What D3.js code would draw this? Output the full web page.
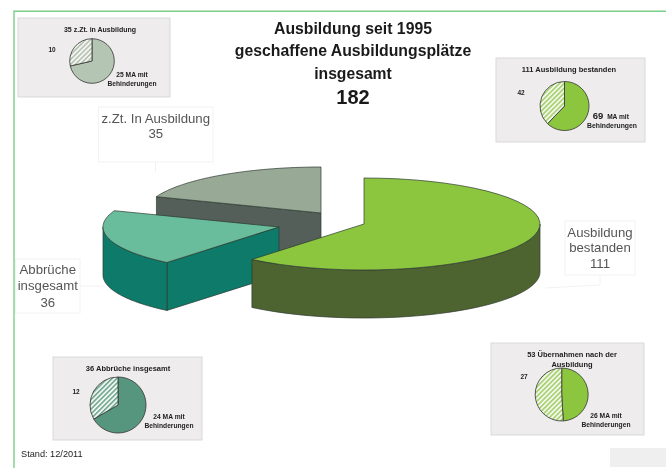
<!DOCTYPE html>
<html><head><meta charset="utf-8">
<script src="https://cdn.jsdelivr.net/npm/d3@7"></script>
<style>html,body{margin:0;padding:0;background:#fff;overflow:hidden}svg{display:block;filter:blur(0.45px)}text{font-family:"Liberation Sans",Arial,sans-serif}</style>
</head><body><svg id="c" width="666" height="468"></svg>
<script>
const titleLines = ["Ausbildung seit 1995","geschaffene Ausbildungsplätze","insgesamt","182"];
const mainCategories = ["Ausbildung bestanden","Abbrüche insgesamt","z.Zt. In Ausbildung"];
const mainValues = [111,36,35];
const mainColors = ["#8cc63f","#69bd9c","#98a996"];
const mainSideColors = ["#4e6430","#0e7a69","#535f58"];
const miniTitles = ["35 z.Zt. in Ausbildung","111 Ausbildung bestanden","36 Abbrüche insgesamt","53 Übernahmen nach der Ausbildung"];
const miniSolid = [25,69,24,26];
const miniHatched = [10,42,12,27];
const miniColors = ["#b5c5b4","#8cc63f","#56967f","#8cc63f"];
const hatchColors = ["#b5c0b3","#a5d26a","#6fa893","#a5d26a"];
const stand = "Stand: 12/2011";

const svg = d3.select("#c");
const defs = svg.append("defs");

// page frame
svg.append("path").attr("d","M14,468V11.3H666").attr("fill","none").attr("stroke","#7ccf8a").attr("stroke-width",1.4);
svg.append("rect").attr("x",610).attr("y",448).attr("width",56).attr("height",19).attr("fill","#efefef");

// title
titleLines.forEach((t,i)=>svg.append("text").attr("x",353).attr("y",[34,56,79,104][i]).attr("text-anchor","middle")
  .attr("font-size",[15.8,15.8,15.7,20][i]).attr("font-weight",700).attr("fill","#1a1a1a").text(t));

// main exploded 3D pie
const rx=176, ry=46, depth=48;
const centers=[[364,224],[279,227],[321,213]];
const pie3=d3.pie().sort(null).startAngle(0).endAngle(2*Math.PI)(mainValues);
const P=(c,a,dz=0)=>[c[0]+rx*Math.sin(a),c[1]-ry*Math.cos(a)+dz];
const line=d3.line();
const samples=(a0,a1)=>d3.range(41).map(i=>a0+(a1-a0)*i/40);
const stroke="#2c3a30";
[2,1,0].forEach(i=>{
  const s=pie3[i], c=centers[i];
  const g=svg.append("g").attr("stroke",stroke).attr("stroke-width",0.7).attr("stroke-linejoin","round");
  // the cut face turned towards the viewer
  if(Math.sin(s.startAngle)<-1e-6){
    const a=s.startAngle;
    const face=[c,P(c,a),P(c,a,depth),[c[0],c[1]+depth]];
    g.append("path").attr("d",line(face)+"Z").attr("fill",mainSideColors[i]);
  }
  // outer wall (only the part facing the viewer: angle between 90° and 270°)
  const w0=Math.max(s.startAngle,Math.PI/2), w1=Math.min(s.endAngle,3*Math.PI/2);
  if(w1>w0){
    const top=samples(w0,w1).map(a=>P(c,a));
    const bot=samples(w1,w0).map(a=>P(c,a,depth));
    g.append("path").attr("d",line(top.concat(bot))+"Z").attr("fill",mainSideColors[i]);
  }
  // top face
  const pts=[c].concat(samples(s.startAngle,s.endAngle).map(a=>P(c,a)));
  g.append("path").attr("d",line(pts)+"Z").attr("fill",mainColors[i]);
});

// callout labels
const boxStroke="#f2f2f2";
const callouts=[
 {x:98.5,y:107,w:114.5,h:55,lines:["z.Zt. In Ausbildung","35"],ly:[123,138],lead:"M155.5,162V172"},
 {x:565,y:221,w:70,h:54,lines:["Ausbildung","bestanden","111"],ly:[237,252,268],lead:"M600,275V285L545,288"},
 {x:15.5,y:259,w:64.5,h:54,lines:["Abbrüche","insgesamt","36"],ly:[274,290,307],lead:"M80,286H104"}
];
callouts.forEach(c=>{
  svg.append("path").attr("d",c.lead).attr("stroke",boxStroke).attr("fill","none");
  svg.append("rect").attr("x",c.x).attr("y",c.y).attr("width",c.w).attr("height",c.h).attr("fill","#fff").attr("stroke",boxStroke);
  c.lines.forEach((t,i)=>svg.append("text").attr("x",c.x+c.w/2).attr("y",c.ly[i]).attr("text-anchor","middle").attr("font-size",13.2).attr("fill","#555").text(t));
});

// inset pies
const insets=[
 {x:18,y:18,w:152,h:79,cx:92,cy:61,r:22.3,fs:7,tLines:[miniTitles[0]],tx:100,ty:[32],hx:52,hy:52,sLines:["25 MA mit","Behinderungen"],sx:132,sy:[77,86],lab:"10"},
 {x:496,y:58,w:149,h:84,cx:564.5,cy:106,r:24.5,fs:7.5,tLines:[miniTitles[1]],tx:569,ty:[72],hx:521,hy:95,sLines:["MA mit","Behinderungen"],sx:612,sy:[119,128],lab:"42",big:"69"},
 {x:53,y:357,w:149,h:83,cx:118,cy:405,r:28,fs:7.5,tLines:[miniTitles[2]],tx:128,ty:[371],hx:76,hy:394,sLines:["24 MA mit","Behinderungen"],sx:169,sy:[419,428],lab:"12"},
 {x:491,y:343,w:153,h:92,cx:561.7,cy:394.5,r:26.5,fs:7.5,tLines:["53 Übernahmen nach der","Ausbildung"],tx:572,ty:[357,367],hx:524,hy:379,sLines:["26 MA mit","Behinderungen"],sx:606,sy:[418,427],lab:"27"}
];
const miniPie=d3.pie().sort(null);
insets.forEach((b,i)=>{
  svg.append("rect").attr("x",b.x).attr("y",b.y).attr("width",b.w).attr("height",b.h).attr("fill","#eeeced").attr("stroke","#d9d9d9");
  const id="h"+i;
  const p=defs.append("pattern").attr("id",id).attr("patternUnits","userSpaceOnUse").attr("width",3.4).attr("height",3.4).attr("patternTransform","rotate(45)");
  p.append("rect").attr("width",3.4).attr("height",3.4).attr("fill","#f4f6f0");
  p.append("rect").attr("width",1.6).attr("height",3.4).attr("fill",hatchColors[i]);
  const arc=d3.arc().innerRadius(0).outerRadius(b.r);
  const g=svg.append("g").attr("transform",`translate(${b.cx},${b.cy})`);
  g.selectAll("path").data(miniPie([miniSolid[i],miniHatched[i]])).join("path")
    .attr("d",arc).attr("fill",(d,k)=>k===0?miniColors[i]:`url(#${id})`).attr("stroke","#333").attr("stroke-width",0.8);
  const txt=(x,y,t,fs)=>svg.append("text").attr("x",x).attr("y",y).attr("text-anchor","middle").attr("font-size",fs).attr("font-weight",700).attr("fill","#222").text(t);
  b.tLines.forEach((t,k)=>txt(b.tx,b.ty[k],t,b.fs));
  txt(b.hx,b.hy,b.lab,6.5);
  if(b.big){ txt(b.sx-14,b.sy[0],b.big,9.5); txt(b.sx+6,b.sy[0],b.sLines[0],6.6); txt(b.sx,b.sy[1],b.sLines[1],6.8); }
  else b.sLines.forEach((t,k)=>txt(b.sx,b.sy[k],t,6.7));
});

svg.append("text").attr("x",21).attr("y",457).attr("font-size",9.2).attr("fill","#222").text(stand);
</script></body></html>
